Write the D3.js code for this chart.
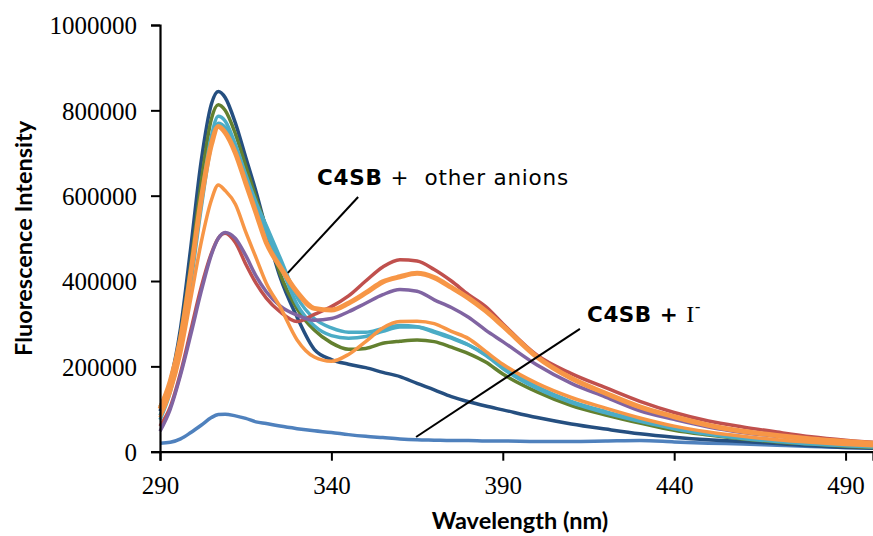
<!DOCTYPE html>
<html>
<head>
<meta charset="utf-8">
<script src="https://cdn.jsdelivr.net/npm/d3@7"></script>
<style>
  body { margin: 0; background: #fff; }
  svg { display: block; }
  .tick text { font-family: "Liberation Serif", "Times New Roman", serif; font-size: 25px; fill: #000; }
</style>
</head>
<body>
<div id="chart"></div>
<script>
// wavelength grid (nm) shared by all spectra
var wavelength = [290,293,296,299,302,305,307,309,312,315,318,321,325,330,335,340,345,350,355,360,365,370,375,380,385,390,400,410,420,430,440,450,460,470,480,490,498];

// intensities in thousands
var iodide   = [20,22,30,45,62,80,87,88,84,78,70,66,60,54,49,45,40,36,33,30,28,27,26,26,25,25,24,24,25,26,23,20,18,15,12,10,9];
var navy     = [95,165,290,480,680,815,844,830,770,690,610,520,410,315,240,216,205,197,186,176,160,145,129,117,107,98,80,65,53,42,34,28,24,19,14,10,8];
var green    = [105,165,275,440,630,780,813,800,745,670,595,525,418,335,285,255,240,242,254,259,262,258,245,230,210,182,140,108,86,67,50,39,30,23,18,13,10];
var tealB    = [75,140,240,395,570,720,770,760,710,640,575,515,440,345,295,272,266,270,282,292,292,282,268,250,226,195,148,115,91,71,54,41,31,24,18,14,11];
var tealA    = [85,150,255,410,590,740,786,775,720,650,585,530,455,362,312,290,280,280,289,296,293,280,266,250,228,198,152,118,94,74,56,43,33,26,20,15,12];
var red      = [60,105,185,285,385,465,500,512,490,440,395,360,328,305,322,340,365,400,433,450,447,427,400,368,340,300,226,183,150,118,92,72,58,46,35,27,22];
var purple   = [48,100,180,275,375,462,500,514,500,460,412,375,342,320,308,312,328,348,368,380,376,356,338,315,285,258,203,160,128,96,76,58,45,36,28,22,18];
var orangeLo = [80,140,230,360,490,590,625,612,580,515,455,395,340,262,222,212,228,258,290,305,306,300,282,265,235,205,160,127,102,79,60,46,36,28,22,17,14];
var orangeHi = [100,165,265,420,590,720,762,748,700,630,560,490,434,374,336,332,348,372,398,410,418,408,385,360,330,295,222,172,137,105,82,62,48,38,30,24,20];

var series = [
  {name: "I-",       color: "#4f81bd", width: 3.5, values: iodide},
  {name: "anion 1",  color: "#254f80", width: 3.5, values: navy},
  {name: "anion 2",  color: "#63802f", width: 3.5, values: green},
  {name: "anion 3",  color: "#4bacc6", width: 3.5, values: tealB},
  {name: "anion 4",  color: "#4bacc6", width: 3.5, values: tealA},
  {name: "anion 5",  color: "#c0504d", width: 3.5, values: red},
  {name: "anion 6",  color: "#8064a2", width: 3.5, values: purple},
  {name: "anion 7",  color: "#f79646", width: 3.5, values: orangeLo},
  {name: "anion 8",  color: "#f79646", width: 5,   values: orangeHi}
];

var xTicks = [290,340,390,440,490];
var yTicks = [0,200000,400000,600000,800000,1000000];

var W = 873, H = 536;
var x = d3.scaleLinear().domain([290, 498]).range([160, 873]);
var y = d3.scaleLinear().domain([0, 1000000]).range([451.7, 25]);

var svg = d3.select("#chart").append("svg")
  .attr("width", W)
  .attr("height", H);

var line = d3.line()
  .x(function(d) { return x(d.w); })
  .y(function(d) { return y(d.v * 1000); })
  .curve(d3.curveMonotoneX);

svg.append("g").selectAll("path")
  .data(series)
  .enter().append("path")
    .attr("fill", "none")
    .attr("stroke", function(d) { return d.color; })
    .attr("stroke-width", function(d) { return d.width; })
    .attr("stroke-linejoin", "round")
    .attr("d", function(d) {
      return line(wavelength.map(function(w, i) { return {w: w, v: d.values[i]}; }));
    });

// axes
var yAxis = d3.axisLeft(y).tickValues(yTicks).tickFormat(d3.format("d")).tickSize(9).tickPadding(14);
var xAxis = d3.axisBottom(x).tickValues(xTicks).tickFormat(d3.format("d")).tickSize(9).tickPadding(10);

var gy = svg.append("g").attr("transform", "translate(" + x(290) + ",0)").call(yAxis);
var gx = svg.append("g").attr("transform", "translate(0," + y(0) + ")").call(xAxis);
[gy, gx].forEach(function(g) {
  g.select(".domain").attr("stroke", "#000").attr("stroke-width", 2.2);
  g.selectAll(".tick line").attr("stroke", "#000").attr("stroke-width", 2);
});
gy.selectAll(".tick text").attr("dy", "0.35em");
gx.selectAll(".tick text").attr("dy", "0.95em");

// axis titles
svg.append("text")
  .attr("transform", "translate(32," + ((y(0) + y(1000000)) / 2) + ") rotate(-90)")
  .attr("text-anchor", "middle")
  .style("font-family", "Lato, 'Open Sans', sans-serif")
  .style("font-weight", "bold")
  .style("font-size", "23.5px")
  .text("Fluorescence Intensity");

svg.append("text")
  .attr("x", 520)
  .attr("y", 529)
  .attr("text-anchor", "middle")
  .style("font-family", "Lato, 'Open Sans', sans-serif")
  .style("font-weight", "bold")
  .style("font-size", "23.5px")
  .text("Wavelength (nm)");

// annotations
var notes = [
  {from: [347.8, 597000], to: [327.3, 419000]},
  {from: [412.5, 288000], to: [364.7, 34500]}
];
svg.append("g").selectAll("line")
  .data(notes)
  .enter().append("line")
    .attr("x1", function(d) { return x(d.from[0]); })
    .attr("y1", function(d) { return y(d.from[1]); })
    .attr("x2", function(d) { return x(d.to[0]); })
    .attr("y2", function(d) { return y(d.to[1]); })
    .attr("stroke", "#000")
    .attr("stroke-width", 2);

var comic = "'Comic Sans MS', 'DejaVu Sans', sans-serif";

var t1 = svg.append("text")
  .attr("x", x(335.8))
  .attr("y", y(625000))
  .style("font-family", comic)
  .style("font-size", "21.5px")
  .style("letter-spacing", "0.8px");
t1.append("tspan").style("font-weight", "bold").text("C4SB");
t1.append("tspan").text(" +\u00a0 other anions");

var t2 = svg.append("text")
  .attr("x", x(414.6))
  .attr("y", y(304000))
  .style("font-family", comic)
  .style("font-size", "21.5px")
  .style("letter-spacing", "0.5px");
t2.append("tspan").style("font-weight", "bold").text("C4SB");
t2.append("tspan").style("font-weight", "bold").text(" + ");
t2.append("tspan").style("font-family", "'Liberation Serif', serif").style("font-size", "24px").text("I");
t2.append("tspan").attr("dy", -10).style("font-size", "16px").text("-");
</script>
</body>
</html>
